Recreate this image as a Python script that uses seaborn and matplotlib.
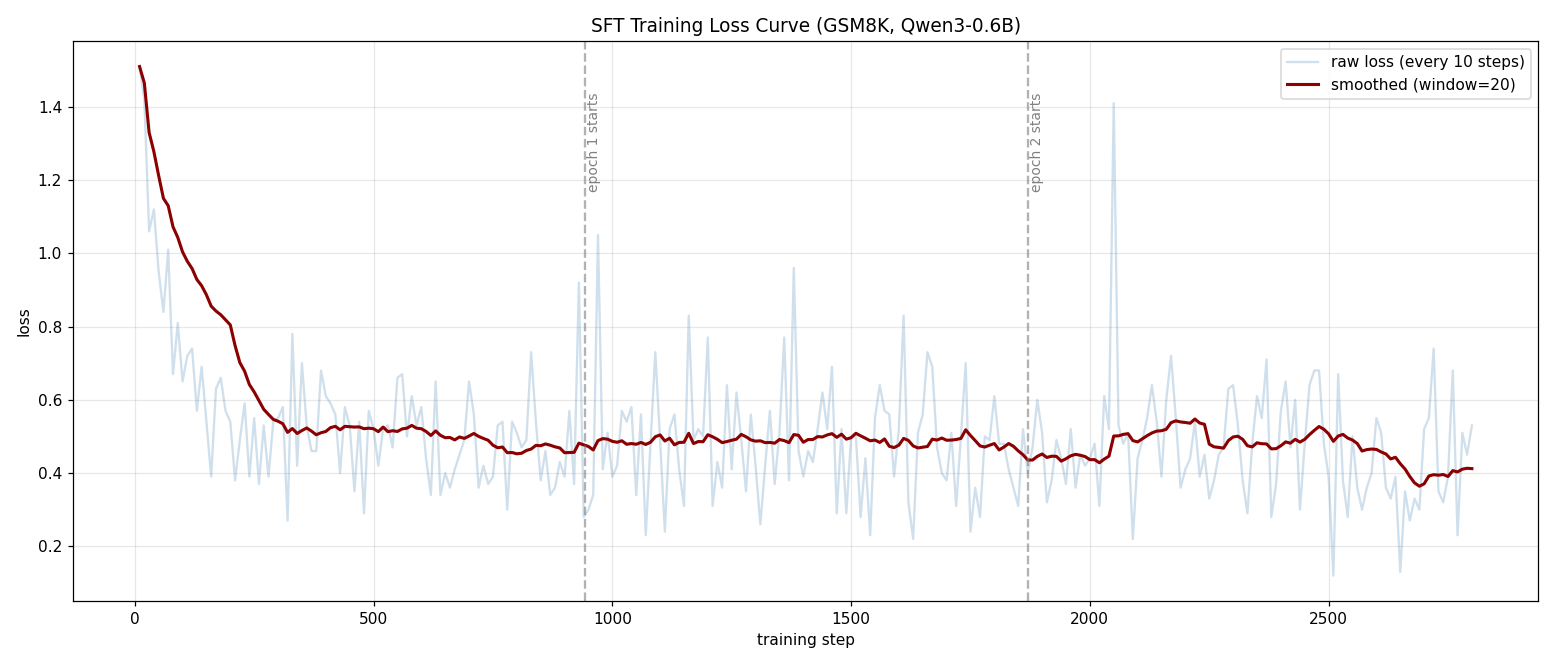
import numpy as np
import pandas as pd
import matplotlib
matplotlib.use('Agg')
import matplotlib.pyplot as plt
import seaborn as sns

steps = np.arange(10, 2810, 10)
raw_loss = [
    1.51, 1.42, 1.06, 1.12, 0.95, 0.84, 1.01, 0.67, 0.81, 0.65,
    0.72, 0.74, 0.57, 0.69, 0.54, 0.39, 0.63, 0.66, 0.57, 0.54,
    0.38, 0.49, 0.59, 0.39, 0.55, 0.37, 0.53, 0.39, 0.54, 0.55,
    0.58, 0.27, 0.78, 0.42, 0.70, 0.53, 0.46, 0.46, 0.68, 0.61,
    0.59, 0.56, 0.40, 0.58, 0.53, 0.35, 0.54, 0.29, 0.57, 0.52,
    0.42, 0.52, 0.53, 0.47, 0.66, 0.67, 0.50, 0.61, 0.53, 0.58,
    0.44, 0.34, 0.65, 0.34, 0.40, 0.36, 0.41, 0.45, 0.49, 0.65,
    0.56, 0.36, 0.42, 0.37, 0.39, 0.53, 0.54, 0.30, 0.54, 0.51,
    0.47, 0.49, 0.73, 0.54, 0.38, 0.46, 0.34, 0.36, 0.43, 0.39,
    0.57, 0.37, 0.92, 0.28, 0.30, 0.34, 1.05, 0.41, 0.51, 0.39,
    0.42, 0.57, 0.54, 0.58, 0.34, 0.56, 0.23, 0.48, 0.73, 0.49,
    0.24, 0.52, 0.56, 0.41, 0.31, 0.83, 0.49, 0.52, 0.50, 0.77,
    0.31, 0.43, 0.36, 0.64, 0.41, 0.62, 0.49, 0.35, 0.56, 0.42,
    0.26, 0.42, 0.57, 0.37, 0.51, 0.77, 0.38, 0.96, 0.46, 0.39,
    0.46, 0.43, 0.52, 0.62, 0.52, 0.69, 0.29, 0.52, 0.29, 0.50,
    0.50, 0.28, 0.44, 0.23, 0.55, 0.64, 0.57, 0.56, 0.39, 0.52,
    0.83, 0.32, 0.22, 0.51, 0.56, 0.73, 0.69, 0.47, 0.40, 0.38,
    0.51, 0.31, 0.50, 0.70, 0.24, 0.36, 0.28, 0.50, 0.49, 0.61,
    0.48, 0.48, 0.41, 0.36, 0.31, 0.52, 0.40, 0.47, 0.60, 0.51,
    0.32, 0.38, 0.49, 0.44, 0.37, 0.52, 0.36, 0.45, 0.42, 0.44,
    0.48, 0.31, 0.61, 0.52, 1.41, 0.53, 0.48, 0.51, 0.22, 0.44,
    0.49, 0.55, 0.64, 0.54, 0.39, 0.60, 0.72, 0.55, 0.36, 0.41,
    0.44, 0.54, 0.39, 0.45, 0.33, 0.38, 0.45, 0.47, 0.63, 0.64,
    0.53, 0.38, 0.29, 0.48, 0.61, 0.55, 0.71, 0.28, 0.37, 0.57,
    0.65, 0.47, 0.60, 0.30, 0.48, 0.64, 0.68, 0.68, 0.48, 0.39,
    0.12, 0.67, 0.38, 0.28, 0.50, 0.36, 0.30, 0.36, 0.40, 0.55,
    0.51, 0.36, 0.33, 0.39, 0.13, 0.35, 0.27, 0.33, 0.30, 0.52,
    0.55, 0.74, 0.35, 0.32, 0.39, 0.68, 0.23, 0.51, 0.45, 0.53,
]
epoch_starts = [943, 1870]
epoch_labels = ['epoch 1 starts', 'epoch 2 starts']

df = pd.DataFrame({'step': steps, 'loss': raw_loss})
# smoothed curve as labelled in the chart: trailing mean over 20 logged points
df['smooth'] = df['loss'].rolling(window=20, min_periods=1).mean()

DPI = 111
fig, ax = plt.subplots(figsize=(1552 / DPI, 663 / DPI), dpi=DPI)
fig.subplots_adjust(left=0.047, right=0.9913, top=0.938, bottom=0.0935)

sns.lineplot(data=df, x='step', y='loss', ax=ax, color='steelblue', alpha=0.25,
             linewidth=1.5, label='raw loss (every 10 steps)')
sns.lineplot(data=df, x='step', y='smooth', ax=ax, color='darkred',
             linewidth=2, label='smoothed (window=20)')

for ep, lab in zip(epoch_starts, epoch_labels):
    ax.axvline(ep, color='gray', linestyle='--', linewidth=1.5, alpha=0.6)
    ax.text(ep + 5, 1.44, lab, rotation=90, va='top', ha='left',
            fontsize=9, color='gray')

ax.set_title('SFT Training Loss Curve (GSM8K, Qwen3-0.6B)', fontsize=12)
ax.set_xlabel('training step')
ax.set_ylabel('loss')
ax.grid(True, alpha=0.3)
ax.legend(loc='upper right')

plt.savefig('out.png', dpi=DPI)
